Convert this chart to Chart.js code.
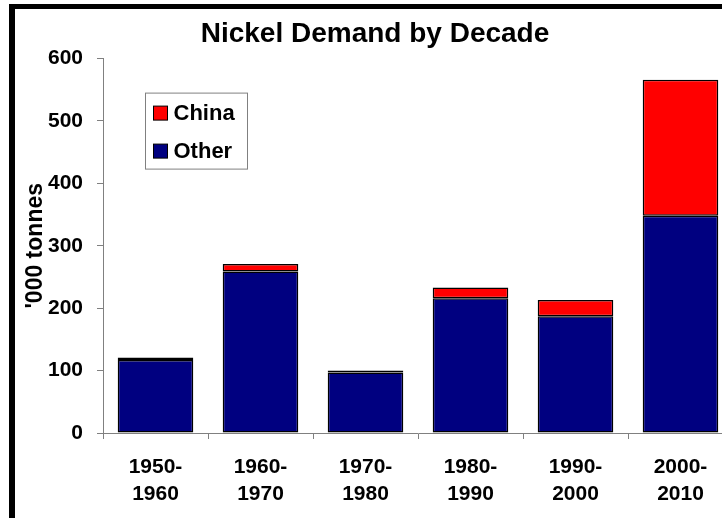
<!DOCTYPE html>
<html>
<head>
<meta charset="utf-8">
<title>Nickel Demand by Decade</title>
<script src="https://cdn.jsdelivr.net/npm/chart.js@4.4.1/dist/chart.umd.min.js"></script>
<style>
    html, body { margin: 0; padding: 0; background: #fff; overflow: hidden; }
    #frame { position: relative; width: 740px; height: 518px; }
    #frame canvas { position: absolute; left: 0; top: 0; }
    /* thick black frame on the left and top edges */
    #edge {
        position: absolute; left: 9px; top: 4px; width: 740px; height: 530px;
        border-left: 6px solid #000; border-top: 5px solid #000; pointer-events: none;
    }
</style>
</head>
<body>
<div id="frame">
    <canvas id="chart" width="740" height="518"></canvas>
    <div id="edge"></div>
</div>
<script>
// Demand in '000 tonnes, per decade
const decades = [
    ['1950-', '1960'], ['1960-', '1970'], ['1970-', '1980'],
    ['1980-', '1990'], ['1990-', '2000'], ['2000-', '2010']
];
const otherDemand = [117, 259, 97, 216, 187, 348];
const chinaDemand = [4, 12, 3, 17, 26, 218];
const yTicks = [0, 100, 200, 300, 400, 500, 600];

const FONT = '"Liberation Sans", Arial, Helvetica, sans-serif';
const AXIS_GREY = '#808080';

// Boxed legend sitting inside the plot, China listed above Other
const boxLegend = {
    id: 'boxLegend',
    afterDraw(chart) {
        const ctx = chart.ctx;
        const area = chart.chartArea;
        const x = area.left + 42.5, y = area.top + 34.5, w = 102, h = 76;
        ctx.save();
        ctx.fillStyle = '#fff';
        ctx.fillRect(x, y, w, h);
        ctx.strokeStyle = AXIS_GREY;
        ctx.lineWidth = 1;
        ctx.strokeRect(x, y, w, h);

        const items = chart.data.datasets.slice().reverse();
        ctx.font = 'bold 22px ' + FONT;
        ctx.textBaseline = 'middle';
        items.forEach((ds, i) => {
            const cy = y + 20 + i * 38;
            ctx.fillStyle = ds.backgroundColor;
            ctx.fillRect(x + 8, cy - 7, 14, 14);
            ctx.strokeStyle = '#000';
            ctx.strokeRect(x + 8, cy - 7, 14, 14);
            ctx.fillStyle = '#000';
            ctx.fillText(ds.label, x + 28, cy + 1);
        });
        ctx.restore();
    }
};

new Chart(document.getElementById('chart'), {
    type: 'bar',
    data: {
        labels: decades,
        datasets: [
            {
                label: 'Other',
                data: otherDemand,
                backgroundColor: '#000080',
                borderColor: '#000',
                borderWidth: 1.5,
                borderSkipped: false
            },
            {
                label: 'China',
                data: chinaDemand,
                backgroundColor: '#ff0000',
                borderColor: '#000',
                borderWidth: 1.5,
                borderSkipped: false
            }
        ]
    },
    options: {
        responsive: false,
        animation: false,
        layout: { padding: { left: 17, right: 7, top: 4, bottom: 0 } },
        datasets: { bar: { categoryPercentage: 1, barPercentage: 0.72 } },
        plugins: {
            legend: { display: false },
            tooltip: { enabled: false },
            title: {
                display: true,
                text: 'Nickel Demand by Decade',
                color: '#000',
                font: { family: FONT, size: 28, weight: 'bold' },
                padding: { top: 13, bottom: 8 }
            }
        },
        scales: {
            x: {
                stacked: true,
                grid: { display: true, drawOnChartArea: false, offset: true, tickLength: 6, color: AXIS_GREY },
                border: { color: AXIS_GREY, width: 1 },
                ticks: {
                    color: '#000',
                    font: { family: FONT, size: 21, weight: 'bold', lineHeight: 1.27 },
                    padding: 15,
                    maxRotation: 0,
                    autoSkip: false
                },
                afterFit: s => { s.height = 85; }
            },
            y: {
                stacked: true,
                min: 0,
                max: 600,
                afterBuildTicks: s => { s.ticks = yTicks.map(v => ({ value: v })); },
                grid: { display: true, drawOnChartArea: false, tickLength: 6, color: AXIS_GREY },
                border: { color: AXIS_GREY, width: 1 },
                ticks: {
                    color: '#000',
                    font: { family: FONT, size: 21, weight: 'bold' },
                    padding: 14
                },
                title: {
                    display: true,
                    text: "'000 tonnes",
                    color: '#000',
                    font: { family: FONT, size: 23, weight: 'bold' },
                    padding: { top: 5, bottom: 0 }
                },
                afterFit: s => { s.width = 86; }
            }
        }
    },
    plugins: [boxLegend]
});
</script>
</body>
</html>
